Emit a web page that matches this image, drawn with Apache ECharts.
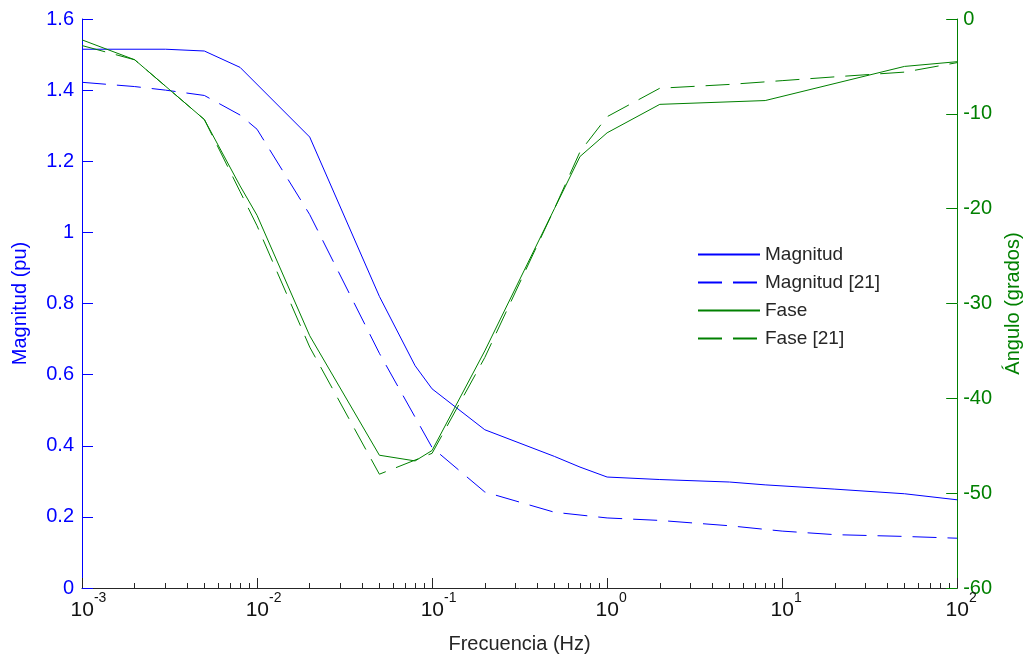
<!DOCTYPE html>
<html><head><meta charset="utf-8">
<script src="https://cdn.jsdelivr.net/npm/echarts@6/dist/echarts.min.js"></script>
<style>html,body{margin:0;padding:0;background:#fff}#c{width:1031px;height:662px}</style>
</head><body><div id="c"></div>
<script>
// ---- data ----
const freqMag = [0.001, 0.003, 0.005, 0.008, 0.02, 0.05, 0.08, 0.1, 0.2, 0.5, 0.7, 1, 2, 5, 8, 20, 50, 100];
const magValues = [1.515, 1.515, 1.51, 1.464, 1.268, 0.82, 0.625, 0.56, 0.445, 0.37, 0.34, 0.312, 0.305, 0.298, 0.29, 0.278, 0.265, 0.248];

const freqMag21 = [0.001, 0.002, 0.003, 0.005, 0.008, 0.01, 0.02, 0.05, 0.1, 0.2, 0.5, 1, 2, 5, 10, 20, 50, 100];
const mag21Values = [1.422, 1.41, 1.40, 1.385, 1.33, 1.29, 1.05, 0.66, 0.395, 0.27, 0.213, 0.197, 0.19, 0.175, 0.16, 0.15, 0.145, 0.14];

const freqFase = [0.001, 0.002, 0.005, 0.008, 0.01, 0.02, 0.05, 0.08, 0.1, 0.2, 0.5, 0.7, 1, 2, 8, 50, 100];
const faseValues = [-2.2, -4.3, -10.6, -17.6, -20.7, -33.4, -46, -46.6, -45.5, -35, -20, -14.5, -12, -9, -8.6, -5, -4.5];

const freqFase21 = [0.001, 0.002, 0.005, 0.008, 0.01, 0.02, 0.05, 0.1, 0.2, 0.5, 0.7, 1, 2, 5, 10, 20, 50, 100];
const fase21Values = [-2.8, -4.3, -10.6, -18.2, -21.8, -34.6, -48, -45.8, -35.7, -20, -14, -10.3, -7.3, -6.9, -6.5, -6.1, -5.6, -4.6];

const seriesNames = ['Magnitud', 'Magnitud [21]', 'Fase', 'Fase [21]'];
const minorTickValues = [0.002,0.003,0.004,0.005,0.006,0.007,0.008,0.009,
  0.02,0.03,0.04,0.05,0.06,0.07,0.08,0.09,
  0.2,0.3,0.4,0.5,0.6,0.7,0.8,0.9,
  2,3,4,5,6,7,8,9,
  20,30,40,50,60,70,80,90];

// ---- chart ----
const pair = (xs, ys) => xs.map((x, i) => [x, ys[i]]);
const BLUE = '#0000ff', GREEN = '#008000', DARK = '#262626';
const FONT = 'Liberation Sans, Arial, sans-serif';
const dash = [24, 11];
const GRID = {left: 82, right: 69, top: 19, bottom: 74};
const plotHeight = 662 - GRID.top - GRID.bottom;

const chart = echarts.init(document.getElementById('c'), null, {renderer: 'canvas'});
chart.setOption({
  animation: false,
  backgroundColor: '#fff',
  textStyle: {fontFamily: FONT},
  grid: Object.assign({containLabel: false}, GRID),
  legend: {
    orient: 'vertical', left: 692, top: 240,
    itemWidth: 62, itemHeight: 14, itemGap: 9,
    itemStyle: {color: 'rgba(0,0,0,0)', borderWidth: 0, borderColor: 'rgba(0,0,0,0)'},
    textStyle: {fontSize: 19, color: DARK, fontFamily: FONT},
    data: seriesNames
  },
  xAxis: [{
    type: 'log', logBase: 10, min: 0.001, max: 100, position: 'bottom',
    name: 'Frecuencia (Hz)', nameLocation: 'middle', nameGap: 46,
    nameTextStyle: {fontSize: 20, color: DARK, fontFamily: FONT},
    axisLine: {lineStyle: {color: DARK, width: 1}},
    axisTick: {inside: true, length: 10, lineStyle: {color: DARK}},
    splitLine: {show: false},
    axisLabel: {
      margin: 3, color: '#111',
      formatter: function (v) {
        const e = Math.round(Math.log10(v));
        const pad = e < 0 ? 'p1' : 'p2';
        return '{' + pad + '|}{b|10}{s|' + e + '}';
      },
      rich: {
        b: {fontSize: 21, fontFamily: FONT, color: '#111', lineHeight: 30, verticalAlign: 'bottom'},
        s: {fontSize: 14, fontFamily: FONT, color: '#111', lineHeight: 30, verticalAlign: 'top', padding: [0, 0, 14, 0]},
        p1: {width: 13},
        p2: {width: 8}
      }
    }
  }, {
    // minor ticks: a label-less top axis moved down onto the bottom edge
    type: 'log', logBase: 10, min: 0.001, max: 100, position: 'top', offset: -plotHeight,
    axisLine: {show: false}, axisLabel: {show: false}, splitLine: {show: false},
    axisTick: {inside: false, length: 5, customValues: minorTickValues, lineStyle: {color: DARK}}
  }],
  yAxis: [{
    type: 'value', min: 0, max: 1.6, interval: 0.2, position: 'left',
    name: 'Magnitud (pu)', nameLocation: 'middle', nameGap: 52,
    nameTextStyle: {fontSize: 20, color: BLUE, fontFamily: FONT},
    axisLine: {show: true, lineStyle: {color: BLUE, width: 1}},
    axisTick: {show: true, inside: true, length: 11, lineStyle: {color: BLUE}},
    axisLabel: {fontSize: 20, color: BLUE, margin: 8},
    splitLine: {show: false}
  }, {
    type: 'value', min: -60, max: 0, interval: 10, position: 'right',
    name: 'Ángulo (grados)', nameLocation: 'middle', nameGap: 42,
    nameTextStyle: {fontSize: 20, color: GREEN, fontFamily: FONT},
    axisLine: {show: true, lineStyle: {color: GREEN, width: 1}},
    axisTick: {show: true, inside: true, length: 11, lineStyle: {color: GREEN}},
    axisLabel: {fontSize: 20, color: GREEN, margin: 6},
    splitLine: {show: false}
  }],
  series: [{
    name: seriesNames[0], type: 'line', xAxisIndex: 0, yAxisIndex: 0,
    data: pair(freqMag, magValues), symbol: 'none', smooth: false,
    lineStyle: {color: BLUE, width: 1}, itemStyle: {color: BLUE}
  }, {
    name: seriesNames[1], type: 'line', xAxisIndex: 0, yAxisIndex: 0,
    data: pair(freqMag21, mag21Values), symbol: 'none',
    lineStyle: {color: BLUE, width: 1, type: dash}, itemStyle: {color: BLUE}
  }, {
    name: seriesNames[2], type: 'line', xAxisIndex: 0, yAxisIndex: 1,
    data: pair(freqFase, faseValues), symbol: 'none',
    lineStyle: {color: GREEN, width: 1}, itemStyle: {color: GREEN}
  }, {
    name: seriesNames[3], type: 'line', xAxisIndex: 0, yAxisIndex: 1,
    data: pair(freqFase21, fase21Values), symbol: 'none',
    lineStyle: {color: GREEN, width: 1, type: dash}, itemStyle: {color: GREEN}
  }]
});
</script>
</body></html>
